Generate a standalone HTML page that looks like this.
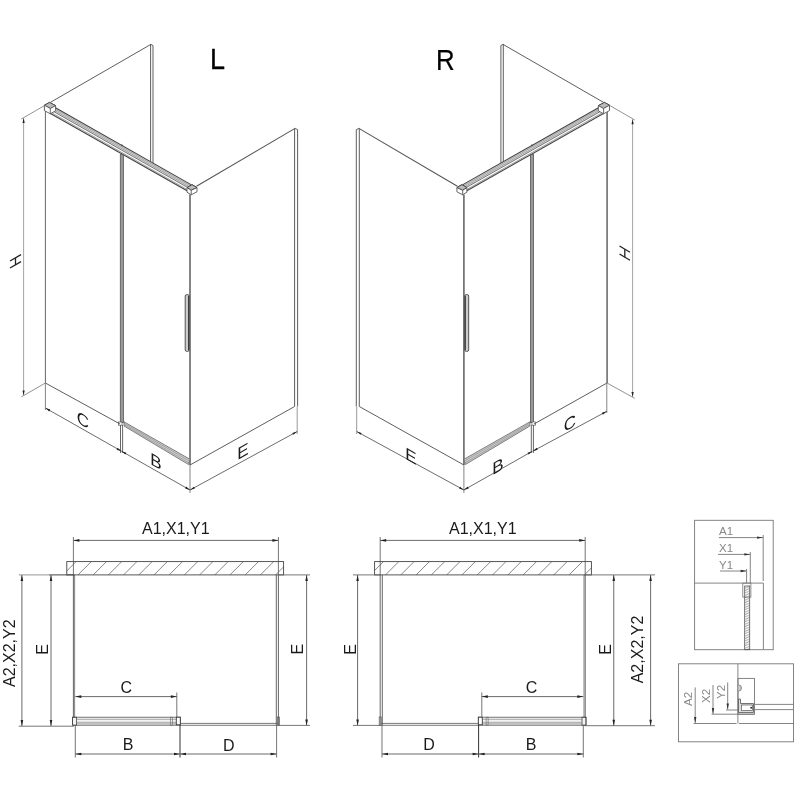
<!DOCTYPE html>
<html><head><meta charset="utf-8"><title>Shower enclosure dimensions</title>
<style>
html,body{margin:0;padding:0;background:#fff;}
body{width:800px;height:800px;overflow:hidden;font-family:"Liberation Sans",sans-serif;}
svg{display:block;}
svg text{font-family:"Liberation Sans",sans-serif;}
</style></head><body>
<svg width="800" height="800" viewBox="0 0 800 800">
<defs>
<pattern id="hatch" patternUnits="userSpaceOnUse" width="15.2" height="13.3" x="71.5" y="561.6">
<path d="M0,13.3 L13.3,0 M-1.9,1.9 L1.9,-1.9 M13.3,15.2 L17.1,11.4" stroke="#555" stroke-width="0.7" fill="none"/>
</pattern>
<pattern id="hatch2" patternUnits="userSpaceOnUse" width="5" height="2.4" x="744.7" y="586">
<path d="M0,2.4 L5,0" stroke="#555" stroke-width="0.6" fill="none"/>
</pattern>
<g id="iso">
<line x1="50.50" y1="102.30" x2="151.00" y2="44.30" stroke="#555" stroke-width="0.95" />
<line x1="150.60" y1="44.30" x2="150.60" y2="162.00" stroke="#555" stroke-width="0.95" />
<line x1="153.00" y1="45.50" x2="153.00" y2="163.50" stroke="#555" stroke-width="0.95" />
<line x1="150.60" y1="44.30" x2="153.00" y2="45.50" stroke="#555" stroke-width="0.95" />
<path d="M55.00,107.50 L192.00,185.18 L190.00,188.84 L53.00,111.17 Z" fill="#e0e0e0" stroke="none" stroke-width="0" stroke-linejoin="round"/>
<line x1="55.00" y1="107.50" x2="191.00" y2="184.61" stroke="#444" stroke-width="1.1" />
<line x1="55.00" y1="109.10" x2="191.00" y2="186.21" stroke="#888" stroke-width="0.7" />
<line x1="55.00" y1="110.70" x2="191.00" y2="187.81" stroke="#888" stroke-width="0.7" />
<line x1="53.00" y1="111.17" x2="189.00" y2="188.28" stroke="#666" stroke-width="0.9" />
<line x1="51.00" y1="112.33" x2="188.00" y2="190.01" stroke="#888" stroke-width="0.8" />
<line x1="50.00" y1="113.17" x2="187.00" y2="190.84" stroke="#444" stroke-width="1.1" />
<circle cx="122" cy="145.3" r="0.9" fill="#444"/>
<path d="M44.40,105.20 L49.50,102.40 L55.60,105.60 L55.60,110.80 L50.30,113.80 L44.40,110.60 Z" fill="#fff" stroke="#555" stroke-width="0.9" stroke-linejoin="round"/>
<path d="M44.40,105.20 L49.50,102.40 L55.60,105.60 L50.30,108.40 Z" fill="#bbb" stroke="#444" stroke-width="0.9" stroke-linejoin="round"/>
<line x1="50.30" y1="108.40" x2="50.30" y2="113.80" stroke="#555" stroke-width="0.9" />
<rect x="120.3" y="154.6" width="3.1" height="268" fill="#999" stroke="#555" stroke-width="0.8"/>
<path d="M187.00,187.60 L192.00,184.60 L197.00,187.60 L197.00,191.80 L191.20,194.80 L187.00,192.20 Z" fill="#fff" stroke="#555" stroke-width="0.9" stroke-linejoin="round"/>
<path d="M187.00,187.60 L192.00,184.60 L197.00,187.60 L191.20,190.20 Z" fill="#bbb" stroke="#444" stroke-width="1.0" stroke-linejoin="round"/>
<line x1="191.20" y1="190.20" x2="191.20" y2="194.80" stroke="#555" stroke-width="0.9" />
<line x1="190.00" y1="194.50" x2="190.00" y2="465.00" stroke="#666" stroke-width="1.6" />
<line x1="196.50" y1="186.30" x2="294.60" y2="128.60" stroke="#555" stroke-width="1.1" />
<line x1="294.60" y1="128.30" x2="294.60" y2="406.50" stroke="#555" stroke-width="0.95" />
<line x1="297.60" y1="129.60" x2="297.60" y2="406.50" stroke="#555" stroke-width="0.95" />
<line x1="294.60" y1="128.30" x2="297.60" y2="129.60" stroke="#555" stroke-width="0.95" />
<line x1="190.00" y1="465.00" x2="294.60" y2="406.50" stroke="#555" stroke-width="0.95" />
<rect x="185.2" y="294.6" width="4" height="56.8" rx="1.6" fill="#ccc" stroke="#444" stroke-width="0.9"/>
<line x1="188.60" y1="296.00" x2="188.60" y2="350.00" stroke="#333" stroke-width="1" />
<path d="M124.00,421.80 L190.00,459.30 L188.50,464.50 L124.00,426.00 Z" fill="#ccc" stroke="#666" stroke-width="0.8" stroke-linejoin="round"/>
<line x1="124.00" y1="423.20" x2="189.50" y2="461.00" stroke="#888" stroke-width="0.6" />
<line x1="124.00" y1="424.60" x2="189.00" y2="463.00" stroke="#888" stroke-width="0.6" />
<rect x="118.5" y="422" width="3.5" height="3.2" fill="#fff" stroke="#555" stroke-width="0.7"/>
<line x1="120.50" y1="425.00" x2="120.50" y2="453.00" stroke="#555" stroke-width="0.9" />
<line x1="122.60" y1="425.00" x2="122.60" y2="453.00" stroke="#555" stroke-width="0.9" />
<line x1="190.00" y1="465.00" x2="190.00" y2="493.00" stroke="#777" stroke-width="0.9" />
<line x1="297.20" y1="406.50" x2="297.20" y2="434.00" stroke="#999" stroke-width="1" />
<line x1="121.50" y1="451.20" x2="190.00" y2="490.00" stroke="#5a5a5a" stroke-width="0.9" />
<path d="M121.50,451.20 L126.39,452.71 L125.31,454.62 Z" fill="#222"/>
<path d="M190.00,490.00 L185.11,488.49 L186.19,486.58 Z" fill="#222"/>
<line x1="190.00" y1="490.00" x2="297.20" y2="431.50" stroke="#5a5a5a" stroke-width="0.9" />
<path d="M190.00,490.00 L193.86,486.64 L194.92,488.57 Z" fill="#222"/>
<path d="M297.20,431.50 L293.34,434.86 L292.28,432.93 Z" fill="#222"/>
</g>
<g id="plan">
<line x1="73.40" y1="575.00" x2="73.40" y2="726.00" stroke="#555" stroke-width="0.9" />
<line x1="74.60" y1="575.00" x2="74.60" y2="717.00" stroke="#666" stroke-width="0.8" />
<line x1="276.30" y1="575.00" x2="276.30" y2="725.40" stroke="#555" stroke-width="0.9" />
<line x1="278.40" y1="575.00" x2="278.40" y2="725.40" stroke="#555" stroke-width="0.9" />
<rect x="277.4" y="717" width="2" height="8.3" fill="none" stroke="#555" stroke-width="0.7"/>
<rect x="72.6" y="717.2" width="107.6" height="8" fill="#f3f3f3" stroke="#555" stroke-width="0.8"/>
<line x1="77.00" y1="719.30" x2="176.00" y2="719.30" stroke="#888" stroke-width="0.7" />
<line x1="77.00" y1="722.30" x2="176.00" y2="722.30" stroke="#888" stroke-width="0.7" />
<line x1="77.00" y1="723.80" x2="176.00" y2="723.80" stroke="#888" stroke-width="0.7" />
<rect x="72.6" y="717.2" width="4" height="8" fill="none" stroke="#444" stroke-width="0.8"/>
<rect x="170.5" y="717.2" width="2" height="8" fill="none" stroke="#666" stroke-width="0.6"/>
<rect x="176.3" y="717.2" width="4" height="7.6" fill="#fff" stroke="#333" stroke-width="0.9"/>
<line x1="180.00" y1="723.40" x2="277.50" y2="723.40" stroke="#555" stroke-width="0.8" />
<line x1="180.00" y1="725.30" x2="277.50" y2="725.30" stroke="#555" stroke-width="0.8" />
<line x1="73.40" y1="537.00" x2="73.40" y2="575.00" stroke="#666" stroke-width="0.9" />
<line x1="278.40" y1="537.00" x2="278.40" y2="575.00" stroke="#666" stroke-width="0.9" />
<line x1="176.80" y1="692.50" x2="176.80" y2="717.00" stroke="#666" stroke-width="0.9" />
<line x1="75.30" y1="726.00" x2="75.30" y2="757.50" stroke="#666" stroke-width="0.9" />
<line x1="180.00" y1="725.00" x2="180.00" y2="757.50" stroke="#333" stroke-width="1" />
<line x1="276.60" y1="725.00" x2="276.60" y2="757.50" stroke="#666" stroke-width="0.9" />
<line x1="73.40" y1="540.40" x2="278.40" y2="540.40" stroke="#5a5a5a" stroke-width="0.9" />
<path d="M73.40,540.40 L79.40,539.10 L79.40,541.70 Z" fill="#222"/>
<path d="M278.40,540.40 L272.40,541.70 L272.40,539.10 Z" fill="#222"/>
<line x1="75.30" y1="696.60" x2="176.80" y2="696.60" stroke="#5a5a5a" stroke-width="0.9" />
<path d="M75.30,696.60 L81.30,695.30 L81.30,697.90 Z" fill="#222"/>
<path d="M176.80,696.60 L170.80,697.90 L170.80,695.30 Z" fill="#222"/>
<line x1="75.30" y1="754.00" x2="180.00" y2="754.00" stroke="#5a5a5a" stroke-width="0.9" />
<path d="M75.30,754.00 L81.30,752.70 L81.30,755.30 Z" fill="#222"/>
<path d="M180.00,754.00 L174.00,755.30 L174.00,752.70 Z" fill="#222"/>
<line x1="180.00" y1="754.00" x2="276.60" y2="754.00" stroke="#5a5a5a" stroke-width="0.9" />
<path d="M180.00,754.00 L186.00,752.70 L186.00,755.30 Z" fill="#222"/>
<path d="M276.60,754.00 L270.60,755.30 L270.60,752.70 Z" fill="#222"/>
</g>
</defs>
<rect width="800" height="800" fill="#fff"/>
<g style="opacity:0.999">
<use href="#iso"/>
<use href="#iso" transform="translate(653.9,0) scale(-1,1)"/>
<line x1="45.40" y1="111.00" x2="45.40" y2="383.00" stroke="#666" stroke-width="1" />
<line x1="45.40" y1="383.00" x2="120.00" y2="424.00" stroke="#555" stroke-width="0.95" />
<line x1="44.80" y1="105.40" x2="21.30" y2="119.00" stroke="#777" stroke-width="0.8" />
<line x1="45.40" y1="383.00" x2="21.30" y2="396.90" stroke="#777" stroke-width="0.8" />
<line x1="45.40" y1="383.00" x2="45.40" y2="410.00" stroke="#777" stroke-width="0.9" />
<line x1="23.60" y1="118.00" x2="23.60" y2="395.60" stroke="#999" stroke-width="0.9" />
<path d="M23.60,118.00 L24.70,123.00 L22.50,123.00 Z" fill="#222"/>
<path d="M23.60,395.60 L22.50,390.60 L24.70,390.60 Z" fill="#222"/>
<line x1="45.40" y1="408.00" x2="121.50" y2="451.20" stroke="#5a5a5a" stroke-width="0.9" />
<path d="M45.40,408.00 L50.29,409.51 L49.21,411.42 Z" fill="#222"/>
<path d="M121.50,451.20 L116.61,449.69 L117.69,447.78 Z" fill="#222"/>
<line x1="607.10" y1="112.00" x2="607.10" y2="383.00" stroke="#777" stroke-width="1.7" />
<line x1="607.00" y1="383.00" x2="534.00" y2="424.00" stroke="#555" stroke-width="0.95" />
<line x1="609.60" y1="105.40" x2="634.80" y2="120.00" stroke="#777" stroke-width="0.8" />
<line x1="607.00" y1="383.00" x2="634.80" y2="398.40" stroke="#777" stroke-width="0.8" />
<line x1="606.80" y1="383.00" x2="606.80" y2="413.00" stroke="#777" stroke-width="0.9" />
<line x1="632.60" y1="119.20" x2="632.60" y2="397.00" stroke="#999" stroke-width="0.9" />
<path d="M632.60,119.20 L633.70,124.20 L631.50,124.20 Z" fill="#222"/>
<path d="M632.60,397.00 L631.50,392.00 L633.70,392.00 Z" fill="#222"/>
<line x1="606.80" y1="411.30" x2="532.80" y2="451.20" stroke="#5a5a5a" stroke-width="0.9" />
<path d="M606.80,411.30 L602.92,414.64 L601.88,412.70 Z" fill="#222"/>
<path d="M532.80,451.20 L536.68,447.86 L537.72,449.80 Z" fill="#222"/>
<use href="#plan"/>
<use href="#plan" transform="translate(658.6,0) scale(-1,1)"/>
<clipPath id="hcL"><rect x="66.8" y="561.6" width="216.8" height="13.299999999999955"/></clipPath>
<g clip-path="url(#hcL)">
<line x1="32.40" y1="574.90" x2="45.70" y2="561.60" stroke="#555" stroke-width="0.7" />
<line x1="47.60" y1="574.90" x2="60.90" y2="561.60" stroke="#555" stroke-width="0.7" />
<line x1="62.80" y1="574.90" x2="76.10" y2="561.60" stroke="#555" stroke-width="0.7" />
<line x1="78.00" y1="574.90" x2="91.30" y2="561.60" stroke="#555" stroke-width="0.7" />
<line x1="93.20" y1="574.90" x2="106.50" y2="561.60" stroke="#555" stroke-width="0.7" />
<line x1="108.40" y1="574.90" x2="121.70" y2="561.60" stroke="#555" stroke-width="0.7" />
<line x1="123.60" y1="574.90" x2="136.90" y2="561.60" stroke="#555" stroke-width="0.7" />
<line x1="138.80" y1="574.90" x2="152.10" y2="561.60" stroke="#555" stroke-width="0.7" />
<line x1="154.00" y1="574.90" x2="167.30" y2="561.60" stroke="#555" stroke-width="0.7" />
<line x1="169.20" y1="574.90" x2="182.50" y2="561.60" stroke="#555" stroke-width="0.7" />
<line x1="184.40" y1="574.90" x2="197.70" y2="561.60" stroke="#555" stroke-width="0.7" />
<line x1="199.60" y1="574.90" x2="212.90" y2="561.60" stroke="#555" stroke-width="0.7" />
<line x1="214.80" y1="574.90" x2="228.10" y2="561.60" stroke="#555" stroke-width="0.7" />
<line x1="230.00" y1="574.90" x2="243.30" y2="561.60" stroke="#555" stroke-width="0.7" />
<line x1="245.20" y1="574.90" x2="258.50" y2="561.60" stroke="#555" stroke-width="0.7" />
<line x1="260.40" y1="574.90" x2="273.70" y2="561.60" stroke="#555" stroke-width="0.7" />
<line x1="275.60" y1="574.90" x2="288.90" y2="561.60" stroke="#555" stroke-width="0.7" />
<line x1="290.80" y1="574.90" x2="304.10" y2="561.60" stroke="#555" stroke-width="0.7" />
</g>
<rect x="66.8" y="561.6" width="216.8" height="13.299999999999955" fill="none" stroke="#444" stroke-width="0.9"/>
<line x1="18.70" y1="574.90" x2="49.00" y2="574.90" stroke="#888" stroke-width="0.9" />
<line x1="49.00" y1="574.90" x2="74.40" y2="574.90" stroke="#444" stroke-width="1" />
<line x1="18.70" y1="726.20" x2="73.80" y2="726.20" stroke="#666" stroke-width="0.9" />
<line x1="278.00" y1="574.90" x2="310.00" y2="574.90" stroke="#666" stroke-width="0.9" />
<line x1="278.00" y1="725.40" x2="310.00" y2="725.40" stroke="#666" stroke-width="0.9" />
<line x1="21.90" y1="575.00" x2="21.90" y2="726.00" stroke="#5a5a5a" stroke-width="0.9" />
<path d="M21.90,575.00 L23.20,581.00 L20.60,581.00 Z" fill="#222"/>
<path d="M21.90,726.00 L20.60,720.00 L23.20,720.00 Z" fill="#222"/>
<line x1="51.00" y1="575.00" x2="51.00" y2="726.00" stroke="#5a5a5a" stroke-width="0.9" />
<path d="M51.00,575.00 L52.30,581.00 L49.70,581.00 Z" fill="#222"/>
<path d="M51.00,726.00 L49.70,720.00 L52.30,720.00 Z" fill="#222"/>
<line x1="306.60" y1="575.00" x2="306.60" y2="725.40" stroke="#5a5a5a" stroke-width="0.9" />
<path d="M306.60,575.00 L307.90,581.00 L305.30,581.00 Z" fill="#222"/>
<path d="M306.60,725.40 L305.30,719.40 L307.90,719.40 Z" fill="#222"/>
<clipPath id="hcR"><rect x="374.6" y="561.6" width="216.79999999999995" height="13.299999999999955"/></clipPath>
<g clip-path="url(#hcR)">
<line x1="339.60" y1="574.90" x2="352.90" y2="561.60" stroke="#555" stroke-width="0.7" />
<line x1="354.90" y1="574.90" x2="368.20" y2="561.60" stroke="#555" stroke-width="0.7" />
<line x1="370.20" y1="574.90" x2="383.50" y2="561.60" stroke="#555" stroke-width="0.7" />
<line x1="385.50" y1="574.90" x2="398.80" y2="561.60" stroke="#555" stroke-width="0.7" />
<line x1="400.80" y1="574.90" x2="414.10" y2="561.60" stroke="#555" stroke-width="0.7" />
<line x1="416.10" y1="574.90" x2="429.40" y2="561.60" stroke="#555" stroke-width="0.7" />
<line x1="431.40" y1="574.90" x2="444.70" y2="561.60" stroke="#555" stroke-width="0.7" />
<line x1="446.70" y1="574.90" x2="460.00" y2="561.60" stroke="#555" stroke-width="0.7" />
<line x1="462.00" y1="574.90" x2="475.30" y2="561.60" stroke="#555" stroke-width="0.7" />
<line x1="477.30" y1="574.90" x2="490.60" y2="561.60" stroke="#555" stroke-width="0.7" />
<line x1="492.60" y1="574.90" x2="505.90" y2="561.60" stroke="#555" stroke-width="0.7" />
<line x1="507.90" y1="574.90" x2="521.20" y2="561.60" stroke="#555" stroke-width="0.7" />
<line x1="523.20" y1="574.90" x2="536.50" y2="561.60" stroke="#555" stroke-width="0.7" />
<line x1="538.50" y1="574.90" x2="551.80" y2="561.60" stroke="#555" stroke-width="0.7" />
<line x1="553.80" y1="574.90" x2="567.10" y2="561.60" stroke="#555" stroke-width="0.7" />
<line x1="569.10" y1="574.90" x2="582.40" y2="561.60" stroke="#555" stroke-width="0.7" />
<line x1="584.40" y1="574.90" x2="597.70" y2="561.60" stroke="#555" stroke-width="0.7" />
<line x1="599.70" y1="574.90" x2="613.00" y2="561.60" stroke="#555" stroke-width="0.7" />
</g>
<rect x="374.6" y="561.6" width="216.79999999999995" height="13.299999999999955" fill="none" stroke="#444" stroke-width="0.9"/>
<line x1="353.00" y1="574.90" x2="381.00" y2="574.90" stroke="#666" stroke-width="0.9" />
<line x1="353.00" y1="725.40" x2="381.00" y2="725.40" stroke="#666" stroke-width="0.9" />
<line x1="584.00" y1="574.90" x2="655.00" y2="574.90" stroke="#666" stroke-width="0.9" />
<line x1="585.00" y1="725.70" x2="655.00" y2="725.70" stroke="#666" stroke-width="0.9" />
<line x1="357.60" y1="575.00" x2="357.60" y2="725.40" stroke="#5a5a5a" stroke-width="0.9" />
<path d="M357.60,575.00 L358.90,581.00 L356.30,581.00 Z" fill="#222"/>
<path d="M357.60,725.40 L356.30,719.40 L358.90,719.40 Z" fill="#222"/>
<line x1="613.75" y1="575.00" x2="613.75" y2="725.70" stroke="#5a5a5a" stroke-width="0.9" />
<path d="M613.75,575.00 L615.05,581.00 L612.45,581.00 Z" fill="#222"/>
<path d="M613.75,725.70 L612.45,719.70 L615.05,719.70 Z" fill="#222"/>
<line x1="650.60" y1="575.00" x2="650.60" y2="725.70" stroke="#5a5a5a" stroke-width="0.9" />
<path d="M650.60,575.00 L651.90,581.00 L649.30,581.00 Z" fill="#222"/>
<path d="M650.60,725.70 L649.30,719.70 L651.90,719.70 Z" fill="#222"/>
<rect x="694.6" y="520.3" width="78.6" height="129.4" fill="none" stroke="#777" stroke-width="0.9"/>
<line x1="694.60" y1="583.10" x2="763.40" y2="583.10" stroke="#777" stroke-width="0.9" />
<line x1="763.20" y1="535.00" x2="763.20" y2="581.00" stroke="#777" stroke-width="0.9" />
<line x1="763.40" y1="583.10" x2="763.40" y2="649.70" stroke="#777" stroke-width="0.9" />
<line x1="718.80" y1="537.60" x2="763.00" y2="537.60" stroke="#777" stroke-width="0.9" />
<path d="M763.00,537.60 L757.00,538.80 L757.00,536.40 Z" fill="#333"/>
<line x1="718.00" y1="554.40" x2="750.30" y2="554.40" stroke="#777" stroke-width="0.9" />
<path d="M750.30,554.40 L744.30,555.60 L744.30,553.20 Z" fill="#333"/>
<line x1="750.30" y1="552.00" x2="750.30" y2="583.00" stroke="#777" stroke-width="0.9" />
<line x1="720.00" y1="571.00" x2="746.60" y2="571.00" stroke="#777" stroke-width="0.9" />
<path d="M746.60,571.00 L740.60,572.20 L740.60,569.80 Z" fill="#333"/>
<line x1="746.60" y1="569.00" x2="746.60" y2="583.00" stroke="#777" stroke-width="0.9" />
<rect x="742.8" y="583.1" width="8.1" height="14" fill="none" stroke="#777" stroke-width="0.8"/>
<rect x="744.7" y="586" width="5" height="63.7" fill="url(#hatch2)" stroke="#555" stroke-width="0.8"/>
<rect x="678.5" y="663.8" width="115" height="78" fill="none" stroke="#777" stroke-width="0.9"/>
<line x1="737.90" y1="663.80" x2="737.90" y2="723.50" stroke="#777" stroke-width="0.9" />
<line x1="693.60" y1="723.50" x2="736.50" y2="723.50" stroke="#777" stroke-width="0.9" />
<line x1="739.00" y1="723.50" x2="793.50" y2="723.50" stroke="#777" stroke-width="0.9" />
<line x1="695.20" y1="687.40" x2="695.20" y2="723.00" stroke="#777" stroke-width="0.9" />
<path d="M695.20,723.00 L694.00,717.00 L696.40,717.00 Z" fill="#333"/>
<line x1="713.00" y1="685.00" x2="713.00" y2="714.00" stroke="#777" stroke-width="0.9" />
<path d="M713.00,714.00 L711.80,708.00 L714.20,708.00 Z" fill="#333"/>
<line x1="711.60" y1="714.20" x2="754.50" y2="714.20" stroke="#777" stroke-width="0.9" />
<line x1="727.70" y1="682.50" x2="727.70" y2="709.50" stroke="#777" stroke-width="0.9" />
<path d="M727.70,709.50 L726.50,703.50 L728.90,703.50 Z" fill="#333"/>
<line x1="726.00" y1="710.00" x2="738.00" y2="710.00" stroke="#777" stroke-width="0.9" />
<rect x="738" y="678.4" width="16.5" height="35.8" fill="none" stroke="#777" stroke-width="0.9"/>
<line x1="754.50" y1="704.40" x2="793.50" y2="704.40" stroke="#777" stroke-width="0.9" />
<line x1="754.50" y1="709.60" x2="793.50" y2="709.60" stroke="#777" stroke-width="0.9" />
<path d="M738.50,699.00 L740.50,699.00 L740.50,703.50 L753.50,703.50 L753.50,712.50 L738.50,712.50 Z" fill="#ddd" stroke="#555" stroke-width="0.8" stroke-linejoin="round"/>
<rect x="741.5" y="705" width="11" height="5.5" fill="#fff" stroke="#555" stroke-width="0.7"/>
<circle cx="751.2" cy="707.7" r="1" fill="#333"/>
<path d="M738.5,685 q3,0 3,3 q0,3 -3,3" fill="#ccc" stroke="#666" stroke-width="0.7"/>
<text x="0" y="0" font-size="29.2" text-anchor="start" fill="#000" transform="translate(209.9,68.9) scale(0.925,1)" stroke="#000" stroke-width="0.3">L</text>
<text x="0" y="0" font-size="29.2" text-anchor="start" fill="#000" transform="translate(436.0,69.7) scale(0.885,1)" stroke="#000" stroke-width="0.2">R</text>
<text x="142" y="533.75" font-size="16" text-anchor="start" fill="#1a1a1a" >A1,X1,Y1</text>
<text x="449" y="533.75" font-size="16" text-anchor="start" fill="#1a1a1a" >A1,X1,Y1</text>
<text x="0" y="0" font-size="16" text-anchor="start" fill="#1a1a1a" transform="translate(15.25,687) rotate(-90)" >A2,X2,Y2</text>
<text x="0" y="0" font-size="16" text-anchor="start" fill="#1a1a1a" transform="translate(48.1,654.8) rotate(-90)" >E</text>
<text x="0" y="0" font-size="16" text-anchor="start" fill="#1a1a1a" transform="translate(303.4,654.5) rotate(-90)" >E</text>
<text x="0" y="0" font-size="16" text-anchor="start" fill="#1a1a1a" transform="translate(355.5,654.8) rotate(-90)" >E</text>
<text x="0" y="0" font-size="16" text-anchor="start" fill="#1a1a1a" transform="translate(610.6,654.8) rotate(-90)" >E</text>
<text x="0" y="0" font-size="16" text-anchor="start" fill="#1a1a1a" transform="translate(643.1,683.3) rotate(-90)" >A2,X2,Y2</text>
<text x="126.3" y="692.5" font-size="16" text-anchor="middle" fill="#1a1a1a" >C</text>
<text x="128" y="750" font-size="16" text-anchor="middle" fill="#1a1a1a" >B</text>
<text x="228.7" y="751" font-size="16" text-anchor="middle" fill="#1a1a1a" >D</text>
<text x="531.5" y="692.5" font-size="16" text-anchor="middle" fill="#1a1a1a" >C</text>
<text x="531" y="750" font-size="16" text-anchor="middle" fill="#1a1a1a" >B</text>
<text x="429" y="750" font-size="16" text-anchor="middle" fill="#1a1a1a" >D</text>
<text x="0" y="0" font-size="17" text-anchor="middle" fill="#1a1a1a" transform="translate(82.8,425.8) skewY(30)" >C</text>
<text x="0" y="0" font-size="17" text-anchor="middle" fill="#1a1a1a" transform="translate(156,467.3) skewY(30)" >B</text>
<text x="0" y="0" font-size="17" text-anchor="middle" fill="#1a1a1a" transform="translate(243.0,457) skewY(-30)" >E</text>
<text x="0" y="0" font-size="17" text-anchor="middle" fill="#1a1a1a" transform="translate(411,462) skewY(30)" >E</text>
<text x="0" y="0" font-size="17" text-anchor="middle" fill="#1a1a1a" transform="translate(498,472) skewY(-30)" >B</text>
<text x="0" y="0" font-size="17" text-anchor="middle" fill="#1a1a1a" transform="translate(570,429) skewY(-30)" >C</text>
<line x1="10.00" y1="261.00" x2="21.00" y2="254.60" stroke="#222" stroke-width="1.3" />
<line x1="10.00" y1="268.00" x2="21.00" y2="261.60" stroke="#222" stroke-width="1.3" />
<line x1="15.50" y1="258.00" x2="15.50" y2="265.00" stroke="#222" stroke-width="1.3" />
<line x1="619.50" y1="246.00" x2="630.00" y2="252.20" stroke="#222" stroke-width="1.3" />
<line x1="619.50" y1="254.00" x2="630.00" y2="260.20" stroke="#222" stroke-width="1.3" />
<line x1="624.80" y1="249.30" x2="624.80" y2="257.30" stroke="#222" stroke-width="1.3" />
<text x="719" y="535.3" font-size="11.5" text-anchor="start" fill="#888" font-weight="normal">A1</text>
<text x="719" y="552.2" font-size="11.5" text-anchor="start" fill="#888" >X1</text>
<text x="719" y="568.8" font-size="11.5" text-anchor="start" fill="#888" >Y1</text>
<text x="0" y="0" font-size="11.5" text-anchor="start" fill="#888" transform="translate(692,706) rotate(-90)" >A2</text>
<text x="0" y="0" font-size="11.5" text-anchor="start" fill="#888" transform="translate(710.3,703) rotate(-90)" >X2</text>
<text x="0" y="0" font-size="11.5" text-anchor="start" fill="#888" transform="translate(725.3,699) rotate(-90)" >Y2</text>
</g>
</svg>
</body></html>
